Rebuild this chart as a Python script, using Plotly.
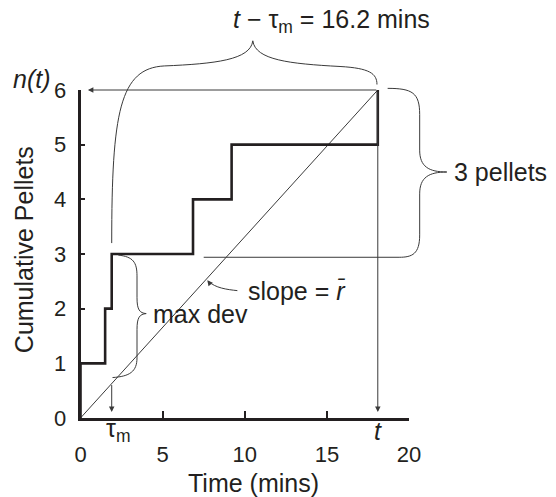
import plotly.graph_objects as go

W, H = 556, 497

# ---- data ----
pellet_times = [0.0, 1.5, 1.9, 6.85, 9.2, 18.1]   # minutes at which each pellet arrived
pellet_counts = [1, 2, 3, 4, 5, 6]
tau_m = 1.9          # time of max deviation
t_end = 18.1         # t
n_t = 6              # n(t)
x_ticks = [0, 5, 10, 15, 20]
y_ticks = [0, 1, 2, 3, 4, 5, 6]
x_range = [0, 20]
y_range = [0, 6]

step_x = [0.0] + pellet_times
step_y = [0] + pellet_counts
slope = n_t / t_end

INK = "#231f20"
THIN = "#3a3a3a"
FONT = "Liberation Sans, Arial, sans-serif"

# main plotting area (paper fractions)
xd = [80.5 / W, 409 / W]
yd = [(H - 418) / H, (H - 90) / H]

# full-figure overlay axes sharing the same data scale
kx = (xd[1] - xd[0]) / (x_range[1] - x_range[0])
ky = (yd[1] - yd[0]) / (y_range[1] - y_range[0])
x2_range = [x_range[0] - xd[0] / kx, x_range[1] + (1 - xd[1]) / kx]
y2_range = [y_range[0] - yd[0] / ky, y_range[1] + (1 - yd[1]) / ky]

fig = go.Figure()

# diagonal (mean rate)
fig.add_trace(go.Scatter(x=[0, t_end], y=[0, n_t], mode="lines",
                         line=dict(color=THIN, width=1), hoverinfo="skip", showlegend=False))
# cumulative step record
fig.add_trace(go.Scatter(x=step_x, y=step_y, mode="lines", line_shape="hv",
                         line=dict(color=INK, width=2.6), hoverinfo="skip", showlegend=False))
# invisible trace to activate the overlay subplot
fig.add_trace(go.Scatter(x=[x2_range[0]], y=[y2_range[0]], xaxis="x2", yaxis="y2",
                         mode="markers", marker=dict(opacity=0), hoverinfo="skip", showlegend=False))


def path(pts):
    s = "M {},{}".format(*pts[0])
    i = 1
    while i < len(pts):
        tag = pts[i]
        if tag == "C":
            (a, b), (c, d), (e, f) = pts[i + 1:i + 4]
            s += " C {},{} {},{} {},{}".format(a, b, c, d, e, f)
            i += 4
        else:
            s += " L {},{}".format(*pts[i + 1])
            i += 2
    return s


tip_top = (10.49, 6.90)
brace_top = [
    tip_top, "C", (10.35, 6.55), (8.2, 6.48), (5.1, 6.44),
    "C", (2.4, 6.40), (tau_m, 5.6), (tau_m, 3.2),
]
brace_top_r = [
    tip_top, "C", (10.65, 6.55), (12.7, 6.48), (15.8, 6.43),
    "C", (17.6, 6.40), (t_end - 0.05, 6.3), (t_end - 0.05, 6.1),
]
brace_right = [
    (18.7, 6.03), "C", (20.2, 6.03), (20.65, 5.95), (20.65, 5.55),
    "L", (20.65, 4.9), "C", (20.65, 4.6), (21.2, 4.5), (22.3, 4.5),
    "C", (21.2, 4.5), (20.65, 4.4), (20.65, 4.1),
    "L", (20.65, 3.35), "C", (20.65, 3.0), (20.2, 2.94), (19.4, 2.94),
    "L", (7.5, 2.94),
]
brace_dev = [
    (2.3, 2.98), "C", (3.2, 2.95), (3.44, 2.85), (3.44, 2.6),
    "L", (3.44, 2.2), "C", (3.44, 1.98), (3.6, 1.92), (4.0, 1.91),
    "C", (3.6, 1.90), (3.44, 1.84), (3.44, 1.62),
    "L", (3.44, 1.1), "C", (3.44, 0.85), (3.0, 0.76), (tau_m + 0.05, 0.74),
]
slope_curve = [(9.55, 2.33), "C", (8.9, 2.35), (8.2, 2.38), (7.8, 2.5)]

shapes = []
for p in (brace_top, brace_top_r, brace_right, brace_dev, slope_curve):
    shapes.append(dict(type="path", path=path(p), xref="x2", yref="y2",
                       line=dict(color=THIN, width=1)))

ann = []


def arrow(x, y, ax, ay):
    ann.append(dict(x=x, y=y, ax=ax, ay=ay, xref="x2", yref="y2", axref="x2", ayref="y2",
                    text="", showarrow=True, arrowhead=2, arrowsize=1.1, arrowwidth=1,
                    arrowcolor=THIN, standoff=0, startstandoff=0))


arrow(0.45, n_t, t_end, n_t)              # n(t) arrow to y-axis
arrow(t_end, 0.11, t_end, n_t)            # t arrow to x-axis
arrow(tau_m, 0.11, tau_m, slope * tau_m)  # tau_m arrow to x-axis
arrow(7.72, 2.52, 7.85, 2.47)             # slope arrow head


def text(x, y, s, size=25, xanchor="center", angle=0):
    ann.append(dict(x=x, y=y, xref="x2", yref="y2", text=s, showarrow=False,
                    xanchor=xanchor, yanchor="middle", textangle=angle,
                    font=dict(family=FONT, size=size, color=INK)))


text(15.3, 7.27, "<i>t</i> − τ<sub>m</sub> = 16.2 mins", size=25)
text(22.6, 4.5, "3 pellets", xanchor="left")
text(4.3, 1.91, "max dev", xanchor="left")
text(10.1, 2.32, "slope = <i>r̄</i>", xanchor="left")
text(1.45, -0.22, "τ<sub>m</sub>", xanchor="left")
text(t_end, -0.24, "<i>t</i>")
text(-1.65, 6.2, "<i>n(t)</i>", xanchor="right")
text(10.55, -1.19, "Time (mins)")
text(-3.44, 3.07, "Cumulative Pellets", angle=-90)

axis_common = dict(showgrid=False, zeroline=False, showline=True, linecolor=INK,
                   linewidth=2.5, ticks="inside", tickcolor=INK,
                   tickfont=dict(family=FONT, size=22, color=INK), automargin=False,
                   fixedrange=True)

fig.update_layout(
    width=W, height=H, template="none",
    margin=dict(l=0, r=0, t=0, b=0, pad=0),
    paper_bgcolor="white", plot_bgcolor="rgba(0,0,0,0)",
    showlegend=False,
    xaxis=dict(domain=xd, range=x_range, tickvals=x_ticks, ticklen=7, tickwidth=1.5,
               ticklabelstandoff=15, anchor="y", **axis_common),
    yaxis=dict(domain=yd, range=y_range, tickvals=y_ticks, ticklen=5, tickwidth=1.5,
               ticklabelstandoff=7, anchor="x", **axis_common),
    xaxis2=dict(domain=[0, 1], range=x2_range, visible=False, anchor="y2", fixedrange=True),
    yaxis2=dict(domain=[0, 1], range=y2_range, visible=False, anchor="x2", fixedrange=True),
    shapes=shapes, annotations=ann,
)

fig.write_html("out.html")
